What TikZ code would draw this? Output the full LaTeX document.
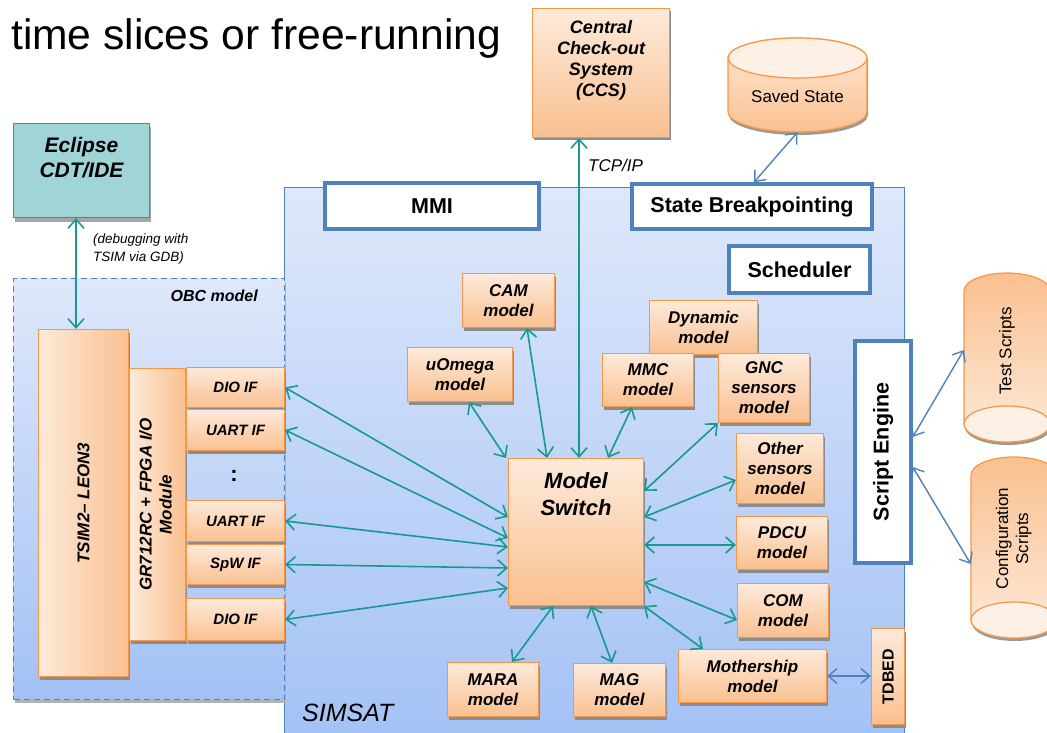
\documentclass[tikz,border=0pt]{standalone}
\usepackage{fontspec}
\setmainfont{Liberation Sans}
\usetikzlibrary{arrows.meta,shadows}

\definecolor{tealln}{RGB}{23,153,142}
\definecolor{officeblue}{RGB}{79,129,189}
\definecolor{orangeln}{RGB}{247,150,70}
\definecolor{orangetop}{RGB}{253,234,218}
\definecolor{orangebot}{RGB}{250,192,144}
\definecolor{eclfill}{RGB}{160,213,216}
\definecolor{bluetop}{RGB}{222,232,251}
\definecolor{bluebot}{RGB}{163,193,245}

\tikzset{
	modelbox/.style={draw=orangeln, line width=1.2pt, top color=orangetop, bottom color=orangebot,
		drop shadow={shadow xshift=1pt, shadow yshift=-3pt, fill=black!45, opacity=1},
		font=\fontsize{17}{20}\selectfont\bfseries\itshape, align=center, inner sep=1pt},
	ifbox/.style={modelbox, font=\fontsize{15}{18}\selectfont\bfseries\itshape, minimum width=98pt},
	corebox/.style={draw=officeblue, line width=3.5pt, fill=white, inner sep=0pt,
		font=\fontsize{21.5}{25}\selectfont\bfseries},
	drum/.style={draw=orangeln, line width=1.2pt, top color=orangetop, bottom color=orangebot,
		drop shadow={shadow xshift=1pt, shadow yshift=-3pt, fill=black!40, opacity=1}},
	drumface/.style={draw=orangeln, line width=1.2pt, fill=orangetop!70!white},
	drumtext/.style={font=\fontsize{17}{20}\selectfont, align=center, inner sep=0pt},
	link/.style={tealln, line width=1.6pt, {Straight Barb[length=9pt,width=16pt]}-{Straight Barb[length=9pt,width=16pt]}},
	bluelink/.style={officeblue, line width=1.4pt, {Straight Barb[length=9pt,width=15pt]}-{Straight Barb[length=9pt,width=15pt]}},
	toplbl/.style={anchor=north, inner sep=0pt, align=center}
}

\begin{document}
\begin{tikzpicture}[x=1pt,y=-1pt]
	\useasboundingbox (0,0) rectangle (1047,733);
	\clip (0,0) rectangle (1047,733);
	\node[anchor=base west, inner sep=0pt, font=\fontsize{42.6}{50}\selectfont] (title) at (11,50) {time slices or free-running};

	% simulator and OBC frames
	\node[anchor=north west, draw=officeblue, line width=1pt, top color=bluetop, bottom color=bluebot,
		inner sep=0pt, minimum width=620pt, minimum height=560pt] (simsat) at (284,187) {};
	\node[anchor=north west, draw=officeblue, line width=1pt, dash pattern=on 6pt off 4pt,
		top color=bluetop, bottom color=bluebot, inner sep=0pt, minimum width=271pt, minimum height=421pt,
		drop shadow={shadow xshift=1pt, shadow yshift=-3pt, fill=black!30, opacity=1},
		label={[anchor=north east, inner sep=0pt, xshift=-27pt, yshift=-12pt, font=\fontsize{16}{19}\selectfont\bfseries\itshape]north east:OBC model}] (obc) at (13,278) {};
	\node[anchor=west, inner sep=0pt, font=\fontsize{25}{30}\selectfont\itshape] (simsatlbl) at (302,713) {SIMSAT};

	\node[draw=officeblue, line width=1.2pt, fill=eclfill, minimum width=136pt, minimum height=94pt,
		drop shadow={shadow xshift=1pt, shadow yshift=-4pt, fill=black!35, opacity=1},
		label={[toplbl, yshift=-14pt, font=\fontsize{21}{25}\selectfont\bfseries\itshape]north:Eclipse\\CDT/IDE}] (ecl) at (81.5,170.5) {};
	\node[anchor=west, align=left, inner sep=0pt, font=\fontsize{13.5}{18}\selectfont\itshape] (dbg) at (93,249) {(debugging with\\TSIM via GDB)};

	% services
	\node[corebox, minimum width=214pt, minimum height=46pt] (mmi) at (432,206) {MMI};
	\node[corebox, minimum width=240pt, minimum height=45pt] (sbp) at (752,206.5) {State Breakpointing};
	\node[corebox, minimum width=141pt, minimum height=47pt] (sch) at (799.5,269.5) {Scheduler};
	\node[corebox, minimum width=56pt, minimum height=222pt] (se) at (883,452) {\rotatebox{90}{Script Engine}};

	% external
	\node[modelbox, minimum width=137pt, minimum height=129pt,
		label={[toplbl, yshift=-12pt, font=\fontsize{18}{21}\selectfont\bfseries\itshape]north:Central\\Check-out\\System\\(CCS)}] (ccs) at (601,73) {};
	\node[anchor=west, inner sep=0pt, font=\fontsize{17}{20}\selectfont\itshape] (tcp) at (588,165) {TCP/IP};

	% saved state drum
	\path[drum] (728,58) -- (728,112) arc[start angle=180, end angle=0, x radius=69.5, y radius=20]
		-- (867,58) arc[start angle=0, end angle=-180, x radius=69.5, y radius=20] -- cycle;
	\draw[drumface] (797.5,58) ellipse[x radius=69.5, y radius=20];
	\node[drumtext, minimum width=139pt, minimum height=72pt] (saved) at (797.5,96) {Saved State};

	% script drums
	\path[drum, top color=orangebot, bottom color=orangetop] (964,291) -- (964,424) arc[start angle=180, end angle=0, x radius=43, y radius=18]
		-- (1050,291) arc[start angle=0, end angle=-180, x radius=43, y radius=18] -- cycle;
	\draw[drumface] (1007,424) ellipse[x radius=43, y radius=18];
	\node[drumtext, minimum width=86pt, minimum height=156pt] (ts) at (1007,351) {\rotatebox{90}{Test Scripts}};
	\path[drum, top color=orangebot, bottom color=orangetop] (971,475) -- (971,620) arc[start angle=180, end angle=0, x radius=43, y radius=18]
		-- (1057,475) arc[start angle=0, end angle=-180, x radius=43, y radius=18] -- cycle;
	\draw[drumface] (1014,620) ellipse[x radius=43, y radius=18];
	\node[drumtext, minimum width=86pt, minimum height=163pt] (cs) at (1014,538.5) {\rotatebox{90}{\begin{tabular}{@{}c@{}}Configuration\\Scripts\end{tabular}}};

	% OBC model
	\node[modelbox, left color=orangetop, right color=orangebot, minimum width=90pt, minimum height=347pt] (tsim) at (83.5,503) {\rotatebox{90}{TSIM2-- LEON3}};
	\node[modelbox, left color=orangetop, right color=orangebot, minimum width=56pt, minimum height=272pt] (gr) at (157.5,504.5)
		{\rotatebox{90}{\begin{tabular}{@{}c@{}}GR712RC + FPGA I/O\\Module\end{tabular}}};
	\node[ifbox, minimum height=40pt] (dio1) at (235.5,387.5) {DIO IF};
	\node[ifbox, minimum height=41pt] (uart1) at (235.5,430) {UART IF};
	\node[inner sep=0pt, font=\fontsize{22}{24}\selectfont\bfseries] (dots) at (234,476) {:};
	\node[ifbox, minimum height=41pt] (uart2) at (235.5,521) {UART IF};
	\node[ifbox, minimum height=40pt] (spw) at (235.5,564.5) {SpW IF};
	\node[ifbox, minimum height=42pt] (dio2) at (235.5,619.5) {DIO IF};

	% SIMSAT models
	\node[modelbox, minimum width=135pt, minimum height=147pt,
		label={[toplbl, yshift=-14pt, font=\fontsize{22}{27}\selectfont\bfseries\itshape]north:Model\\Switch}] (ms) at (576,532) {};
	\node[modelbox, minimum width=92pt, minimum height=54pt] (cam) at (508.5,300.5) {CAM\\model};
	\node[modelbox, minimum width=105pt, minimum height=54pt] (uom) at (460,374.5) {uOmega\\model};
	\node[modelbox, minimum width=108pt, minimum height=54pt] (dyn) at (703.5,327.5) {Dynamic\\model};
	\node[modelbox, minimum width=91pt, minimum height=53pt] (mmc) at (648,380) {MMC\\model};
	\node[modelbox, minimum width=91pt, minimum height=69pt] (gnc) at (764,388) {GNC\\sensors\\model};
	\node[modelbox, minimum width=87pt, minimum height=70pt] (oth) at (780,468.5) {Other\\sensors\\model};
	\node[modelbox, minimum width=91pt, minimum height=53pt] (pdcu) at (782,543) {PDCU\\model};
	\node[modelbox, minimum width=91pt, minimum height=54pt] (com) at (783,610.5) {COM\\model};
	\node[modelbox, minimum width=148pt, minimum height=53pt] (moth) at (752.5,676) {Mothership\\model};
	\node[modelbox, minimum width=91pt, minimum height=54pt] (mara) at (493,689.5) {MARA\\model};
	\node[modelbox, minimum width=92pt, minimum height=53pt] (mag) at (619.5,690) {MAG\\model};
	\node[modelbox, minimum width=33pt, minimum height=96pt, font=\fontsize{16}{19}\selectfont\bfseries] (tdbed) at (888,676.5) {\rotatebox{90}{TDBED}};

	% links
	\draw[link] (ecl.south -| 76,0) -- (tsim.north -| 76,0);
	\draw[link] (ccs.south -| 579,0) -- (ms.north -| 579,0);
	\draw[link] (dio1.east) -- (ms.west |- 0,517);
	\draw[link] (uart1.east) -- (ms.west |- 0,538);
	\draw[link] (uart2.east) -- (ms.west |- 0,547);
	\draw[link] (spw.east) -- (ms.west |- 0,568);
	\draw[link] (dio2.east) -- (ms.west |- 0,588);
	\draw[link] (uom.south -| 469,0) -- (ms.north -| 506,0);
	\draw[link] (cam.south -| 527,0) -- (ms.north -| 547,0);
	\draw[link] (mmc.south -| 632,0) -- (ms.north -| 608,0);
	\draw[link] (gnc.south west) -- (ms.east |- 0,491);
	\draw[link] (oth.west |- 0,480) -- (ms.east |- 0,517);
	\draw[link] (pdcu.west |- 0,545) -- (ms.east |- 0,545);
	\draw[link] (com.west |- 0,620) -- (ms.east |- 0,582);
	\draw[link] (moth.north -| 703,0) -- (ms.south east);
	\draw[link] (mara.north -| 512,0) -- (ms.south -| 553,0);
	\draw[link] (mag.north -| 612,0) -- (ms.south -| 591,0);
	\draw[bluelink] (saved.south) -- (sbp.north -| 754,0);
	\draw[bluelink] (se.east |- 0,437) -- (ts.west |- 0,350);
	\draw[bluelink] (se.east |- 0,467) -- (cs.west |- 0,564);
	\draw[bluelink] (moth.east) -- (tdbed.west |- moth.east);
\end{tikzpicture}
\end{document}
